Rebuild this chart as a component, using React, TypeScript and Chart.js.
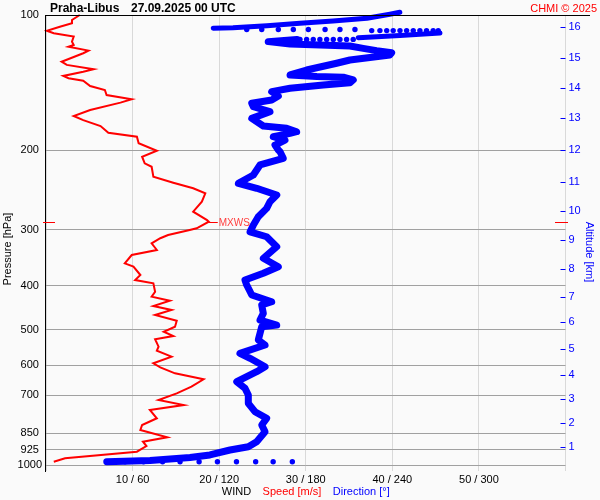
import React, { useEffect, useRef } from 'react';
import { Chart, registerables } from 'chart.js';

Chart.register(...registerables);

const FONT = '"Liberation Sans", Arial, Helvetica, sans-serif';
const BLUE = '#0000ff';
const RED = '#ff0000';

const stationName = 'Praha-Libus';
const observationTime = '27.09.2025 00 UTC';
const creditLabel = 'CHMI © 2025';
const xTitleParts = ['WIND', 'Speed [m/s]', 'Direction [°]'];
const xTitleColors = ['#000000', RED, BLUE];
const yTitle = 'Pressure [hPa]';
const y2Title = 'Altitude [km]';
const maxWindLabel = 'MXWS';

const pressureTicks = [100, 200, 300, 400, 500, 600, 700, 850, 925, 1000];
const speedTicks = [0, 10, 20, 30, 40, 50, 60];
const speedTickLabels = ['', '10 / 60', '20 / 120', '30 / 180', '40 / 240', '50 / 300', ''];

const altitudeKm = [1, 2, 3, 4, 5, 6, 7, 8, 9, 10, 11, 12, 13, 14, 15, 16];
const altitudePressure = [910.6, 805.5, 713, 631, 552.1, 481.9, 422.7, 366.7, 316.2, 272.2, 234.6, 199.5, 169.7, 145.5, 124.8, 106.3];

const maxWindPressure = 288;
const maxWindSpeed = 18.8;

// wind speed profile [hPa] / [m/s]
const speedPressure = [100, 102.6, 104.3, 106.2, 108.4, 109.8, 111.7, 114.6, 116.6, 117.6, 120.0, 121.6, 127.0, 129.1, 132.0, 133.7, 136.6, 138.2, 140.0, 143.8, 146.8, 150.6, 153.9, 156.6, 162.6, 167.7, 171.2, 176.5, 182.6, 186.4, 192.8, 200.3, 206.5, 213.6, 217.4, 228.8, 235.9, 242.7, 249.0, 260.0, 273.6, 285.5, 288.0, 297.8, 300.4, 308.2, 313.4, 321.6, 332.8, 341.5, 356.3, 362.5, 378.3, 388.1, 394.7, 412.0, 422.7, 431.4, 443.3, 452.4, 464.2, 477.9, 492.8, 505.6, 516.8, 525.6, 545.8, 557.2, 574.5, 594.3, 606.6, 625.5, 645.0, 669.9, 693.0, 717.1, 735.6, 754.6, 787.3, 814.8, 836.0, 867.8, 887.6, 907.4, 934.1, 966.3, 983.2];
const speedValues = [3.9, 3.0, 3.0, 1.6, 0.1, 0.9, 3.2, 3.0, 3.2, 2.6, 4.9, 4.3, 1.8, 2.4, 5.5, 4.3, 2.0, 2.6, 4.3, 5.1, 6.8, 7.0, 9.9, 8.6, 5.1, 3.2, 4.3, 6.3, 7.2, 10.5, 10.7, 12.8, 11.1, 11.4, 12.2, 12.4, 14.7, 17.0, 18.4, 18.0, 17.0, 18.6, 18.8, 17.4, 16.6, 14.1, 13.2, 12.2, 12.8, 9.9, 9.1, 10.1, 10.9, 10.3, 12.4, 12.6, 12.2, 14.3, 12.4, 14.5, 12.6, 15.1, 14.9, 13.6, 14.7, 12.6, 13.0, 12.8, 14.5, 12.4, 13.2, 14.9, 18.2, 16.8, 15.1, 13.0, 15.9, 12.0, 12.8, 11.1, 10.9, 14.0, 11.2, 11.6, 10.5, 2.2, 0.9];

// wind direction profile [hPa] / [deg], main ascent trace
const dirPressure = [983.3, 977.2, 962, 950.0, 926.1, 910.6, 887.6, 843.4, 814.9, 787.5, 761.3, 729.3, 699.0, 675.4, 653.0, 620.4, 604.7, 579.3, 564.7, 541.2, 527.5, 509.8, 492.9, 488.6, 476.3, 460.2, 441.1, 433.7, 419.1, 398.1, 388.1, 375.0, 362.5, 347.3, 327.3, 311.0, 303.2, 293.0, 280.8, 269.0, 260.0, 251.2, 242.7, 236.6, 226.8, 215.4, 208.2, 201.3, 199.5, 194.5, 189.6, 186.4, 183.2, 181.7, 178.6, 176.5, 169.7, 164.0, 159.9, 157.1, 154.5, 151.4, 148.0, 145.5, 143.0, 141.4, 139.4, 137.5, 137.0, 135.9, 132.5, 128.0, 125.9, 122.7, 121.3, 120.0, 118.6, 117.2, 116.6, 116.0, 114.6, 113.3];
const dirValues = [42.1, 72.1, 99.8, 113.6, 127.5, 140.2, 146.0, 151.8, 149.5, 152.9, 144.8, 140.2, 140.2, 137.9, 132.2, 146.0, 151.8, 141.4, 134.4, 151.8, 147.1, 148.3, 149.5, 159.9, 148.3, 150.6, 149.5, 156.4, 142.6, 139.1, 137.9, 150.6, 161.0, 150.6, 159.9, 152.9, 141.4, 143.7, 147.1, 152.9, 155.2, 159.9, 146.0, 133.3, 143.7, 148.3, 164.4, 162.2, 161.0, 158.7, 165.6, 157.5, 169.1, 173.7, 166.8, 150.6, 142.6, 155.2, 143.7, 142.6, 156.4, 161.0, 156.4, 169.1, 192.1, 210.6, 212.9, 206.0, 187.6, 169.1, 180.6, 201.4, 210.6, 238.3, 239.5, 229.1, 219.8, 210.6, 189.9, 169.1, 154.0, 173.9];

// upper dense segments
const dirUpperPressure = [112.3, 111.0, 109.6];
const dirUpperValues = [216.4, 245.3, 273.0];
const dirTopPressure = [107.0, 106.7, 105.6, 104.3, 103.1, 101.7, 99.6, 98.6];
const dirTopValues = [115.9, 129.6, 153.1, 176.0, 198.9, 222.4, 238.3, 245.2];

// isolated samples (fast direction change)
const dotPressure = [113.3, 113.3, 113.3, 113.3, 113.3, 113.3, 113.3, 113.3, 113.3,
  108.3, 108.3, 108.3, 108.3, 108.3, 108.3, 108.3, 108.3, 108.3, 108.3, 108.3,
  107.7, 107.7, 107.7, 107.7, 107.7, 107.7, 107.7, 107.7,
  983.5, 983.5, 983.5, 983.5, 983.5, 983.5, 983.5, 983.5, 983.5, 983.5];
const dotDirection = [176.0, 180.6, 185.2, 189.8, 194.5, 199.1, 203.7, 208.3, 212.9,
  271.8, 268.3, 263.7, 259.1, 254.5, 249.9, 245.3, 240.6, 236.1, 231.4, 225.7,
  214.1, 203.7, 193.4, 181.8, 171.4, 161.0, 149.5, 139.1,
  54.8, 67.6, 80.8, 92.9, 106.1, 118.8, 132.0, 145.3, 157.4, 170.7];

const pts = (ps: number[], vs: number[]) => ps.map((p, i) => ({ x: vs[i], y: p }));

export default function App() {
  const ref = useRef<HTMLCanvasElement>(null);

  useEffect(() => {
    const canvas = ref.current;
    if (!canvas) return;

    const decor = {
      id: 'decor',
      beforeDraw(chart: any) {
        const { ctx, width, height } = chart;
        ctx.save();
        ctx.fillStyle = '#fafafa';
        ctx.fillRect(0, 0, width, height);
        ctx.restore();
      },
      afterDraw(chart: any) {
        const { ctx, chartArea } = chart;
        const xs = chart.scales.x;
        const ys = chart.scales.y;
        ctx.save();
        // frame lines
        ctx.strokeStyle = '#000';
        ctx.lineWidth = 1;
        ctx.beginPath();
        ctx.moveTo(Math.round(chartArea.left) - 0.5, chartArea.top);
        ctx.lineTo(Math.round(chartArea.left) - 0.5, chartArea.bottom + 7);
        ctx.moveTo(Math.round(chartArea.left) - 1, Math.round(chartArea.top) + 0.5);
        ctx.lineTo(590, Math.round(chartArea.top) + 0.5);
        ctx.stroke();

        // inner altitude ticks
        ctx.strokeStyle = BLUE;
        ctx.lineWidth = 1;
        ctx.beginPath();
        altitudePressure.forEach((p) => {
          const y = Math.round(ys.getPixelForValue(p)) + 0.5;
          ctx.moveTo(chartArea.right - 5, y);
          ctx.lineTo(chartArea.right, y);
        });
        ctx.stroke();

        // max wind marker
        const my = Math.round(ys.getPixelForValue(maxWindPressure)) + 0.5;
        const mx = xs.getPixelForValue(maxWindSpeed);
        ctx.strokeStyle = RED;
        ctx.beginPath();
        ctx.moveTo(43, my); ctx.lineTo(55, my);
        ctx.moveTo(555, my); ctx.lineTo(568, my);
        ctx.moveTo(mx, my); ctx.lineTo(mx + 9, my);
        ctx.stroke();
        ctx.fillStyle = '#ff4040';
        ctx.font = `10px ${FONT}`;
        ctx.textAlign = 'left';
        ctx.textBaseline = 'middle';
        ctx.fillText(maxWindLabel, mx + 10, my + 1);

        // titles
        ctx.textBaseline = 'alphabetic';
        ctx.fillStyle = '#000';
        ctx.font = `bold 12px ${FONT}`;
        ctx.fillText(stationName, 50, 12);
        ctx.fillText(observationTime, 131, 12);
        ctx.fillStyle = RED;
        ctx.font = `11px ${FONT}`;
        ctx.textAlign = 'right';
        ctx.fillText(creditLabel, 597, 12);

        // x title in three colours
        ctx.font = `11px ${FONT}`;
        ctx.textAlign = 'left';
        ctx.textBaseline = 'middle';
        const gap = 11.5;
        const widths = xTitleParts.map((t) => ctx.measureText(t).width);
        const total = widths.reduce((a, b) => a + b, 0) + gap * (xTitleParts.length - 1);
        let x = (chartArea.left + chartArea.right) / 2 - total / 2;
        xTitleParts.forEach((t, i) => {
          ctx.fillStyle = xTitleColors[i];
          ctx.fillText(t, x, 492);
          x += widths[i] + gap;
        });

        // y titles
        ctx.save();
        ctx.translate(8, 249);
        ctx.rotate(-Math.PI / 2);
        ctx.textAlign = 'center';
        ctx.fillStyle = '#000';
        ctx.fillText(yTitle, 0, 0);
        ctx.restore();

        ctx.save();
        ctx.translate(589, 252);
        ctx.rotate(Math.PI / 2);
        ctx.textAlign = 'center';
        ctx.fillStyle = BLUE;
        ctx.fillText(y2Title, 0, 0);
        ctx.restore();

        ctx.restore();
      },
    };

    const chart = new Chart(canvas, {
      type: 'scatter',
      data: {
        datasets: [
          {
            label: 'Speed',
            data: pts(speedPressure, speedValues),
            xAxisID: 'x', yAxisID: 'y',
            showLine: true, borderColor: RED, borderWidth: 2, pointRadius: 0, tension: 0,
            clip: false as any, order: 3,
          },
          {
            label: 'Direction',
            data: pts(dirPressure, dirValues),
            xAxisID: 'xDir', yAxisID: 'y',
            showLine: true, borderColor: BLUE, borderWidth: 7, pointRadius: 0,
            borderCapStyle: 'round', borderJoinStyle: 'round',
            clip: false as any, order: 1,
          },
          {
            label: 'Direction upper',
            data: pts(dirUpperPressure, dirUpperValues),
            xAxisID: 'xDir', yAxisID: 'y',
            showLine: true, borderColor: BLUE, borderWidth: 5, pointRadius: 0,
            borderCapStyle: 'round', borderJoinStyle: 'round',
            clip: false as any, order: 1,
          },
          {
            label: 'Direction top',
            data: pts(dirTopPressure, dirTopValues),
            xAxisID: 'xDir', yAxisID: 'y',
            showLine: true, borderColor: BLUE, borderWidth: 5, pointRadius: 0,
            borderCapStyle: 'round', borderJoinStyle: 'round',
            clip: false as any, order: 1,
          },
          {
            label: 'Direction samples',
            data: pts(dotPressure, dotDirection),
            xAxisID: 'xDir', yAxisID: 'y',
            showLine: false, pointRadius: 2.7, pointBackgroundColor: BLUE,
            pointBorderWidth: 0, pointBorderColor: BLUE,
            clip: false as any, order: 1,
          },
        ] as any,
      },
      options: {
        animation: false,
        responsive: false,
        events: [],
        layout: { padding: { top: 15, left: 0, right: 0, bottom: 0 } },
        plugins: {
          legend: { display: false },
          tooltip: { enabled: false },
          title: { display: false },
        },
        scales: {
          x: {
            type: 'linear', position: 'bottom', min: 0, max: 60,
            afterBuildTicks: (s: any) => { s.ticks = speedTicks.map((v) => ({ value: v })); },
            afterFit: (s: any) => { s.height = 35; },
            grid: { color: '#d9d9d9', tickColor: '#d9d9d9', tickLength: 6, drawTicks: true, lineWidth: 1 },
            border: { display: false },
            ticks: {
              padding: 2, maxRotation: 0, autoSkip: false, color: '#000',
              font: { family: FONT, size: 11 },
              callback: (_v: any, i: number) => speedTickLabels[i],
            },
          },
          xDir: { type: 'linear', display: false, min: 0, max: 360 },
          y: {
            type: 'logarithmic', position: 'left', reverse: true, min: 100, max: 1000,
            afterBuildTicks: (s: any) => { s.ticks = pressureTicks.map((v) => ({ value: v })); },
            afterFit: (s: any) => { s.width = 46; },
            grid: { color: '#a0a0a0', drawTicks: false, lineWidth: 1 },
            border: { display: false },
            ticks: {
              autoSkip: false, padding: 4, crossAlign: 'center', color: '#000',
              font: { family: FONT, size: 11 },
              callback: (v: any) => String(v),
            },
          },
          y2: {
            type: 'logarithmic', position: 'right', reverse: true, min: 100, max: 1000,
            afterBuildTicks: (s: any) => { s.ticks = altitudePressure.map((v) => ({ value: v })); },
            afterFit: (s: any) => { s.width = 34.5; },
            grid: { drawOnChartArea: false, drawTicks: false },
            border: { display: false },
            ticks: {
              autoSkip: false, padding: 3, color: BLUE,
              font: { family: FONT, size: 11 },
              callback: (_v: any, i: number) => String(altitudeKm[i]),
            },
          },
        } as any,
      },
      plugins: [decor],
    });

    return () => chart.destroy();
  }, []);

  return (
    <div style={{ position: 'fixed', left: 0, top: 0, width: 600, height: 500, background: '#fafafa' }}>
      <canvas ref={ref} width={600} height={500} style={{ display: 'block', width: 600, height: 500 }} />
    </div>
  );
}
